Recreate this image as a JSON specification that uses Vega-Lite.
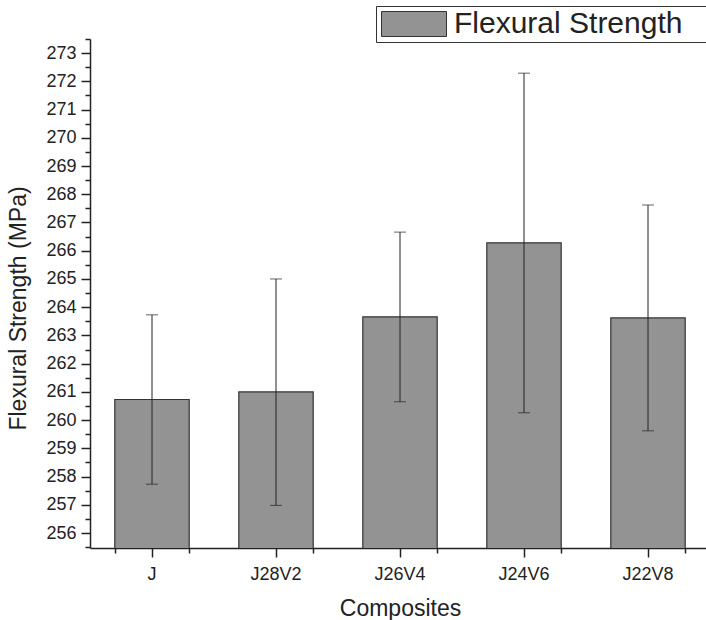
{
  "$schema": "https://vega.github.io/schema/vega-lite/v6.json",
  "width": 620,
  "height": 509,
  "autosize": {"type": "none"},
  "padding": {"left": 90, "top": 39, "right": 0, "bottom": 73},
  "background": "white",
  "config": {
    "view": {"stroke": null},
    "font": "Liberation Sans",
    "axis": {"grid": false, "labelFont": "Liberation Sans", "titleFont": "Liberation Sans", "labelColor": "#222", "titleColor": "#222", "titleFontWeight": "normal", "tickColor": "#222", "domainColor": "#222"}
  },
  "data": {
    "values": [
      {"comp": "J", "value": 260.73, "low": 257.73, "high": 263.73},
      {"comp": "J28V2", "value": 261.0, "low": 256.98, "high": 265.0},
      {"comp": "J26V4", "value": 263.66, "low": 260.65, "high": 266.66},
      {"comp": "J24V6", "value": 266.28, "low": 260.26, "high": 272.29},
      {"comp": "J22V8", "value": 263.62, "low": 259.62, "high": 267.62}
    ]
  },
  "resolve": {"axis": {"x": "independent", "y": "independent"}},
  "layer": [
    {
      "mark": {"type": "bar", "stroke": "#333", "strokeWidth": 1.2, "clip": true},
      "encoding": {
        "x": {
          "field": "comp", "type": "nominal",
          "sort": ["J", "J28V2", "J26V4", "J24V6", "J22V8"],
          "scale": {"paddingInner": 0.4, "paddingOuter": 0.2},
          "axis": {"orient": "bottom", "title": "Composites", "titleFontSize": 23, "titleX": 310, "titleY": 67, "titleAlign": "center", "titleBaseline": "alphabetic", "labelFontSize": 18, "labelAngle": 0, "labelPadding": 8, "tickSize": 9, "tickWidth": 1.5, "domainWidth": 1.5}
        },
        "y": {
          "field": "value", "type": "quantitative",
          "scale": {"domain": [255.47, 273.5], "zero": false, "nice": false},
          "axis": {"orient": "left", "title": "Flexural Strength (MPa)", "titleFontSize": 23, "titleAngle": -90, "titleX": -72, "titleY": 269, "titleAlign": "center", "titleBaseline": "middle", "values": [256,257,258,259,260,261,262,263,264,265,266,267,268,269,270,271,272,273], "labelFontSize": 18, "labelPadding": 5, "tickSize": 9, "tickWidth": 1.5, "domainWidth": 1.5}
        },
        "fill": {
          "datum": "Flexural Strength", "type": "nominal",
          "scale": {"range": ["#939393"]},
          "legend": {
            "title": null, "orient": "none", "legendX": 286, "legendY": -33,
            "strokeColor": "#333", "fillColor": "white", "padding": 3,
            "labelFontSize": 30, "labelFont": "Liberation Sans", "labelColor": "#222", "labelOffset": 45, "labelLimit": 600,
            "labelExpr": "datum.label + '\u2800\u2800\u2800'",
            "symbolType": "M-1,-1L4.2,-1L4.2,1L-1,1Z", "symbolSize": 625,
            "symbolStrokeColor": "#333", "symbolStrokeWidth": 1, "symbolOpacity": 1
          }
        }
      }
    },
    {
      "mark": {"type": "rule", "color": "#222", "strokeWidth": 1},
      "encoding": {
        "x": {
          "field": "comp", "type": "nominal",
          "sort": ["J", "J28V2", "J26V4", "J24V6", "J22V8"],
          "axis": {"orient": "bottom", "title": null, "labels": false, "domain": false, "tickBand": "extent", "tickSize": 5, "tickWidth": 1.5}
        },
        "y": {
          "field": "low", "type": "quantitative",
          "axis": {"orient": "left", "title": null, "labels": false, "domain": false, "values": [255.5,256.5,257.5,258.5,259.5,260.5,261.5,262.5,263.5,264.5,265.5,266.5,267.5,268.5,269.5,270.5,271.5,272.5,273.5], "tickSize": 5, "tickWidth": 1.5}
        },
        "y2": {"field": "high"}
      }
    },
    {
      "mark": {"type": "tick", "color": "#222", "thickness": 1, "size": 12, "orient": "horizontal"},
      "encoding": {
        "x": {"field": "comp", "type": "nominal", "sort": ["J", "J28V2", "J26V4", "J24V6", "J22V8"], "axis": null},
        "y": {"field": "low", "type": "quantitative", "axis": null}
      }
    },
    {
      "mark": {"type": "tick", "color": "#222", "thickness": 1, "size": 12, "orient": "horizontal"},
      "encoding": {
        "x": {"field": "comp", "type": "nominal", "sort": ["J", "J28V2", "J26V4", "J24V6", "J22V8"], "axis": null},
        "y": {"field": "high", "type": "quantitative", "axis": null}
      }
    }
  ]
}
